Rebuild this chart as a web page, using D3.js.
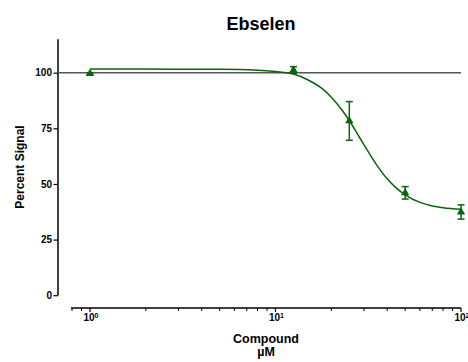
<!DOCTYPE html>
<html><head><meta charset="utf-8">
<script src="https://cdn.jsdelivr.net/npm/d3@7"></script>
<style>body{margin:0;background:#fff}svg{display:block}text{font-family:Arial,"Liberation Sans",sans-serif;font-weight:bold;fill:#000}</style>
</head><body>
<svg id="c" width="468" height="362"></svg>
<script>
// Data
const concentrations = [1, 12.5, 25, 50, 100];
const meanSignal = [99.6, 101.2, 78.3, 46.0, 37.4];
const errSignal = [0.4, 1.5, 8.7, 2.8, 3.2];
// Fitted curve
const curveX = [1, 2, 5, 8, 10, 12.5, 15, 18, 20, 22.5, 25, 28, 30, 35, 40, 45, 50, 60, 70, 80, 100];
const curveY = [101.6, 101.6, 101.5, 101.1, 100.5, 99.4, 96.7, 92.6, 89, 83.9, 78.5, 71.7, 67.6, 58.7, 52.3, 48, 45.1, 41.7, 40.1, 39.3, 38.6];
const yTicks = [0, 25, 50, 75, 100];
const xMajorTicks = [1, 10, 100];
const xMinorTicks = [0.8, 0.9, 2, 3, 4, 5, 6, 7, 8, 9, 20, 30, 40, 50, 60, 70, 80, 90];
const refLevel = 100;
const title = "Ebselen", yLabel = "Percent Signal", xLabel1 = "Compound", xLabel2 = "\u00B5M";

const green = "#0b640b";
const svg = d3.select("#c");
const x = d3.scaleLog().domain([0.8, 100]).range([72, 461]);
const y = d3.scaleLinear().domain([0, 115]).range([295.2, 39.3]);
const axisY = 308, axisX = 58;

// Title
svg.append("text").attr("x", 261).attr("y", 30).attr("text-anchor", "middle")
  .style("font-size", "18px").text(title);

// Y axis
const ya = svg.append("g").attr("transform", `translate(${axisX},0)`)
  .call(d3.axisLeft(y).tickValues(yTicks).tickSize(4.5).tickPadding(1.5));
ya.select(".domain").attr("stroke", "#000").attr("stroke-width", 1.5).attr("d", `M0,${y(115)}V${y(0)}`);
ya.selectAll(".tick line").attr("stroke", "#000").attr("stroke-width", 1.2);
ya.selectAll(".tick text").style("font-size", "10px").style("font-family", "Arial, 'Liberation Sans', sans-serif").style("font-weight", "bold");

svg.append("text").attr("transform", `translate(24,167) rotate(-90)`).attr("text-anchor", "middle")
  .style("font-size", "12px").text(yLabel);

// X axis
const xa = svg.append("g").attr("transform", `translate(0,${axisY})`);
xa.append("path").attr("d", `M${x(0.8) - 1},0H${x(100)}`).attr("stroke", "#000").attr("stroke-width", 1.5).attr("fill", "none");
xa.selectAll("line.minor").data(xMinorTicks).join("line").attr("class", "minor")
  .attr("x1", d => x(d)).attr("x2", d => x(d)).attr("y1", 0).attr("y2", 3)
  .attr("stroke", "#000").attr("stroke-width", 1);
xa.selectAll("line.major").data(xMajorTicks).join("line").attr("class", "major")
  .attr("x1", d => x(d)).attr("x2", d => x(d)).attr("y1", 0).attr("y2", 4)
  .attr("stroke", "#000").attr("stroke-width", 1.2);
const lbl = xa.selectAll("text.xl").data(xMajorTicks).join("text").attr("class", "xl")
  .attr("x", d => x(d) + 1).attr("y", 13).attr("text-anchor", "middle").style("font-size", "10px");
lbl.append("tspan").text("10");
lbl.append("tspan").attr("dy", -3.5).style("font-size", "7px").text(d => Math.round(Math.log10(d)));

svg.append("text").attr("x", 266).attr("y", 343).attr("text-anchor", "middle").style("font-size", "12.5px").text(xLabel1);
svg.append("text").attr("x", 266).attr("y", 356).attr("text-anchor", "middle").style("font-size", "12.5px").text(xLabel2);

// Reference line at 100
svg.append("line").attr("x1", axisX).attr("x2", x(100)).attr("y1", y(refLevel)).attr("y2", y(refLevel))
  .attr("stroke", "#555").attr("stroke-width", 1.5);

// Fitted curve
const curvePts = curveX.map((d, i) => [d, curveY[i]]);
svg.append("path").datum(curvePts)
  .attr("d", d3.line().x(d => x(d[0])).y(d => y(d[1])).curve(d3.curveMonotoneX))
  .attr("fill", "none").attr("stroke", green).attr("stroke-width", 1.5);

// Error bars
const pts = concentrations.map((c, i) => ({c, m: meanSignal[i], e: errSignal[i]}));
const eb = svg.append("g").attr("stroke", green).attr("stroke-width", 1.5);
pts.forEach(p => {
  const cx = x(p.c);
  eb.append("line").attr("x1", cx).attr("x2", cx).attr("y1", y(p.m + p.e)).attr("y2", y(p.m - p.e));
  eb.append("line").attr("x1", cx - 3.5).attr("x2", cx + 3.5).attr("y1", y(p.m + p.e)).attr("y2", y(p.m + p.e));
  eb.append("line").attr("x1", cx - 3.5).attr("x2", cx + 3.5).attr("y1", y(p.m - p.e)).attr("y2", y(p.m - p.e));
});

// Triangles
svg.selectAll("path.pt").data(pts).join("path").attr("class", "pt")
  .attr("d", d3.symbol(d3.symbolTriangle, 30))
  .attr("transform", d => `translate(${x(d.c)},${y(d.m)})`)
  .attr("fill", green);
</script>
</body></html>
